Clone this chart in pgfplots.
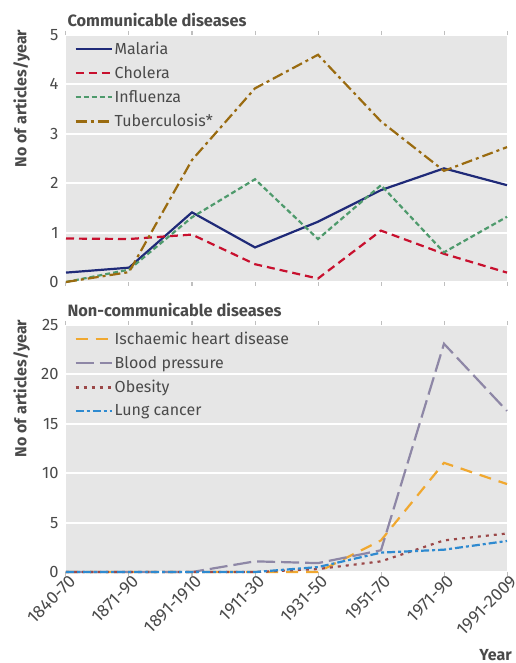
\documentclass[border=0pt]{standalone}
\usepackage{fontspec}
\setmainfont{Fira Sans}
\usepackage{pgfplots}
\pgfplotsset{compat=1.18}
\definecolor{bgc}{HTML}{E6E6E6}
\definecolor{txt}{HTML}{4A4A4A}
\definecolor{mal}{HTML}{1F2A78}
\definecolor{cho}{HTML}{C8102E}
\definecolor{inf}{HTML}{4E9A6C}
\definecolor{tub}{HTML}{9A6B10}
\definecolor{ihd}{HTML}{F0A830}
\definecolor{bp}{HTML}{8E87A6}
\definecolor{obe}{HTML}{9B4848}
\definecolor{lun}{HTML}{2E8AD0}
\begin{document}
\fontsize{16}{19}\selectfont
\begin{tikzpicture}[x=1pt,y=1pt]
\path[use as bounding box] (0,0) rectangle (515,-663);
\pgfplotsset{common/.style={
  scale only axis, width=441pt, height=247pt,
  xmin=0, xmax=7, xtick={0,...,7},
  axis background/.style={fill=bgc},
  axis line style={draw=none},
  ymajorgrids, grid style={white, line width=2pt},
  ytick style={draw=none},
  xtick style={draw=black!25, line width=1pt},
  tick align=outside, major tick length=4pt,
  tick label style={text=txt, font=\fontsize{16.5}{19}\selectfont},
  yticklabel style={xshift=2pt},
  /pgf/number format/assume math mode=true,
  clip=false,
  legend cell align=left,
  legend style={draw=none, fill=none, at={(axis description cs:0.012,0.99)}, anchor=north west,
    row sep=5.6pt, font=\fontsize{16}{19}\selectfont, text=txt,
    legend image code/.code={\draw[##1] (0pt,0pt) -- (36pt,0pt);}},
  ylabel={No of articles/year},
  ylabel style={at={(axis description cs:-0.1202,1.022)}, anchor=north east, inner sep=0pt, font=\bfseries\fontsize{16}{19}\selectfont, text=txt},
  title style={at={(axis description cs:0,1)}, anchor=base west, yshift=2.5pt, xshift=-4pt, font=\bfseries\fontsize{16.4}{19}\selectfont, text=txt},
  every axis plot/.append style={line width=2.2pt},
}}
\begin{axis}[common, at={(66pt,-35pt)}, anchor=north west,
  ymin=0, ymax=5, ytick={0,1,2,3,4,5}, xticklabels={},
  title={Communicable diseases}]
\addplot[mal] coordinates {(0,0.19) (1,0.29) (2,1.41) (3,0.70) (4,1.22) (5,1.86) (6,2.30) (7,1.96)};
\addlegendentry{Malaria}
\addplot[cho, dash pattern=on 8pt off 5pt] coordinates {(0,0.88) (1,0.87) (2,0.96) (3,0.36) (4,0.07) (5,1.04) (6,0.57) (7,0.19)};
\addlegendentry{Cholera}
\addplot[inf, dash pattern=on 5pt off 3pt] coordinates {(0,0) (1,0.25) (2,1.31) (3,2.08) (4,0.87) (5,1.96) (6,0.60) (7,1.32)};
\addlegendentry{Influenza}
\addplot[tub, dash pattern=on 11pt off 4pt on 3pt off 4pt] coordinates {(0,0) (1,0.20) (2,2.47) (3,3.92) (4,4.60) (5,3.25) (6,2.25) (7,2.73)};
\addlegendentry{Tuberculosis*}
\end{axis}
\begin{axis}[common, at={(66pt,-325pt)}, anchor=north west,
  ymin=0, ymax=25, ytick={0,5,10,15,20,25},
  xticklabels={1840-70,1871-90,1891-1910,1911-30,1931-50,1951-70,1971-90,1991-2009},
  xticklabel style={rotate=45, anchor=north east, inner sep=1pt, xshift=4pt, yshift=1pt, font=\fontsize{17.5}{20}\selectfont},
  xlabel={Year},
  xlabel style={at={(axis description cs:1,0)}, anchor=base east, yshift=-88pt, xshift=5pt, inner sep=0pt, font=\bfseries\fontsize{16}{19}\selectfont, text=txt},
  title={Non-communicable diseases}]
\addplot[ihd, dash pattern=on 12pt off 8pt] coordinates {(0,0) (1,0) (2,0) (3,0) (4,0) (5,3.2) (6,11.05) (7,8.9)};
\addlegendentry{Ischaemic heart disease}
\addplot[bp, dash pattern=on 18pt off 6pt] coordinates {(0,0) (1,0) (2,0) (3,1.08) (4,0.9) (5,2.2) (6,23.1) (7,16.3)};
\addlegendentry{Blood pressure}
\addplot[obe, dash pattern=on 3pt off 5pt] coordinates {(0,0) (1,0) (2,0) (3,0) (4,0.3) (5,1.08) (6,3.2) (7,3.9)};
\addlegendentry{Obesity}
\addplot[lun, dash pattern=on 8pt off 3pt on 3pt off 3pt] coordinates {(0,0) (1,0) (2,0) (3,0) (4,0.5) (5,1.96) (6,2.26) (7,3.14)};
\addlegendentry{Lung cancer}
\end{axis}
\end{tikzpicture}
\end{document}
